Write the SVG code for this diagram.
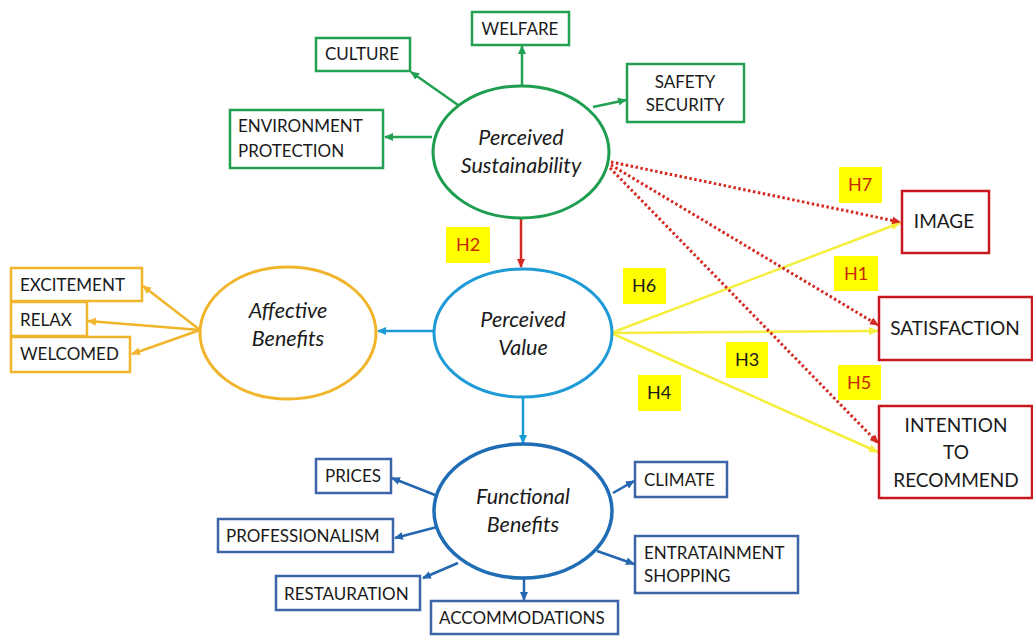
<svg xmlns="http://www.w3.org/2000/svg" width="1033" height="637" viewBox="0 0 1033 637">
<style>
text{font-family:Lato,"Open Sans","Liberation Sans",sans-serif;fill:#1a1a1a}
.bx{font-size:17px}
.rb{font-size:19px}
.el{font-size:21.5px;font-style:italic;text-anchor:middle}
.c{text-anchor:middle}
.hl{font-size:18px;text-anchor:middle}
.gb{fill:#fff;stroke:#23A152;stroke-width:2.5}
.yb{fill:#fff;stroke:#F0B52B;stroke-width:2.5}
.bb{fill:#fff;stroke:#3B65A8;stroke-width:2.5}
.rbx{fill:#fff;stroke:#C8171E;stroke-width:2.5}
.hy{fill:#FFFF00}
.red{fill:#C8280A}
</style>
<defs>
<marker id="ag" markerWidth="9" markerHeight="9" refX="8" refY="4.5" orient="auto" markerUnits="userSpaceOnUse"><path d="M0,0.5 L9,4.5 L0,8.5 z" fill="#23A152"/></marker>
<marker id="ay" markerWidth="9" markerHeight="9" refX="8" refY="4.5" orient="auto" markerUnits="userSpaceOnUse"><path d="M0,0.5 L9,4.5 L0,8.5 z" fill="#F0B52B"/></marker>
<marker id="ac" markerWidth="9" markerHeight="9" refX="8" refY="4.5" orient="auto" markerUnits="userSpaceOnUse"><path d="M0,0.5 L9,4.5 L0,8.5 z" fill="#1E9BD7"/></marker>
<marker id="ab" markerWidth="9" markerHeight="9" refX="8" refY="4.5" orient="auto" markerUnits="userSpaceOnUse"><path d="M0,0.5 L9,4.5 L0,8.5 z" fill="#2467B0"/></marker>
<marker id="ar" markerWidth="9" markerHeight="9" refX="8" refY="4.5" orient="auto" markerUnits="userSpaceOnUse"><path d="M0,0.5 L9,4.5 L0,8.5 z" fill="#D42A22"/></marker>
<marker id="aw" markerWidth="10" markerHeight="10" refX="9" refY="5" orient="auto" markerUnits="userSpaceOnUse"><path d="M0,1 L10,5 L0,9 z" fill="#F6EE3C"/></marker>
</defs>

<g id="connectors" fill="none">
  <g stroke="#23A152" stroke-width="2.5" marker-end="url(#ag)">
    <line x1="522" y1="86" x2="522" y2="46"/>
    <line x1="458" y1="105" x2="411" y2="72"/>
    <line x1="432" y1="137" x2="385" y2="137"/>
    <line x1="593" y1="107" x2="626" y2="100"/>
  </g>
  <line x1="521" y1="218" x2="521" y2="267" stroke="#D42A22" stroke-width="2.5" marker-end="url(#ar)"/>
  <g stroke="#1E9BD7" stroke-width="2.5" marker-end="url(#ac)">
    <line x1="433" y1="331" x2="378" y2="331"/>
    <line x1="523" y1="398" x2="523" y2="443"/>
  </g>
  <g stroke="#F0B52B" stroke-width="2.5" marker-end="url(#ay)">
    <line x1="200" y1="330" x2="143" y2="286"/>
    <line x1="200" y1="330" x2="88" y2="321"/>
    <line x1="200" y1="330" x2="132" y2="354"/>
  </g>
  <g stroke="#2467B0" stroke-width="2.5" marker-end="url(#ab)">
    <line x1="435" y1="495" x2="392" y2="478"/>
    <line x1="437" y1="527" x2="395" y2="538"/>
    <line x1="458" y1="563" x2="423" y2="578"/>
    <line x1="524" y1="578" x2="524" y2="600"/>
    <line x1="613" y1="493" x2="634" y2="481"/>
    <line x1="597" y1="551" x2="634" y2="564"/>
  </g>
  <g stroke="#F6EE3C" stroke-width="2.5" marker-end="url(#aw)">
    <line x1="611" y1="333" x2="900" y2="223"/>
    <line x1="611" y1="333" x2="878" y2="331"/>
    <line x1="611" y1="333" x2="878" y2="452"/>
  </g>
  <g stroke="#D42A22" stroke-width="3" stroke-dasharray="2.5 2.5" marker-end="url(#ar)">
    <line x1="611" y1="162" x2="900" y2="222"/>
    <line x1="611" y1="165" x2="878" y2="325"/>
    <line x1="610" y1="168" x2="878" y2="443"/>
  </g>
</g>

<g id="perceived-sustainability"><ellipse cx="521" cy="152" rx="88" ry="66" fill="#fff" stroke="#1D9E4F" stroke-width="3"/><text class="el" x="521" y="145">Perceived</text><text class="el" x="521" y="173">Sustainability</text></g>
<g id="perceived-value"><ellipse cx="523" cy="333" rx="89" ry="64" fill="#fff" stroke="#1E9BD7" stroke-width="3"/><text class="el" x="523" y="327">Perceived</text><text class="el" x="523" y="355">Value</text></g>
<g id="affective-benefits"><ellipse cx="288" cy="333" rx="88" ry="66" fill="#fff" stroke="#F0B52B" stroke-width="3"/><text class="el" x="288" y="318">Affective</text><text class="el" x="288" y="346">Benefits</text></g>
<g id="functional-benefits"><ellipse cx="523" cy="511" rx="89" ry="67" fill="#fff" stroke="#1F6EB5" stroke-width="3.5"/><text class="el" x="523" y="504">Functional</text><text class="el" x="523" y="532">Benefits</text></g>

<g id="welfare"><rect class="gb" x="472" y="12" width="97" height="33"/><text class="bx c" x="520" y="35">WELFARE</text></g>
<g id="culture"><rect class="gb" x="316" y="38" width="94" height="33"/><text class="bx c" x="362" y="60">CULTURE</text></g>
<g id="environment-protection"><rect class="gb" x="230" y="110" width="153" height="58"/><text class="bx" x="238" y="132">ENVIRONMENT</text><text class="bx" x="238" y="157">PROTECTION</text></g>
<g id="safety-security"><rect class="gb" x="627" y="64" width="117" height="58"/><text class="bx c" x="685" y="88">SAFETY</text><text class="bx c" x="685" y="111">SECURITY</text></g>

<g id="excitement"><rect class="yb" x="11" y="268" width="131" height="33"/><text class="bx" x="20" y="291">EXCITEMENT</text></g>
<g id="relax"><rect class="yb" x="11" y="302" width="76" height="34"/><text class="bx" x="20" y="326">RELAX</text></g>
<g id="welcomed"><rect class="yb" x="11" y="337" width="119" height="35"/><text class="bx" x="20" y="360">WELCOMED</text></g>

<g id="prices"><rect class="bb" x="316" y="459" width="75" height="34"/><text class="bx c" x="353" y="482">PRICES</text></g>
<g id="professionalism"><rect class="bb" x="218" y="519" width="175" height="33"/><text class="bx" x="226" y="542">PROFESSIONALISM</text></g>
<g id="restauration"><rect class="bb" x="276" y="576" width="144" height="34"/><text class="bx" x="284" y="600">RESTAURATION</text></g>
<g id="accommodations"><rect class="bb" x="431" y="601" width="187" height="33"/><text class="bx" x="439" y="624">ACCOMMODATIONS</text></g>
<g id="climate"><rect class="bb" x="635" y="462" width="92" height="35"/><text class="bx" x="644" y="486">CLIMATE</text></g>
<g id="entratainment-shopping"><rect class="bb" x="635" y="536" width="163" height="57"/><text class="bx" x="644" y="559">ENTRATAINMENT</text><text class="bx" x="644" y="582">SHOPPING</text></g>

<g id="image"><rect class="rbx" x="902" y="191" width="87" height="62"/><text class="rb c" x="944" y="228">IMAGE</text></g>
<g id="satisfaction"><rect class="rbx" x="879" y="297" width="153" height="63"/><text class="rb c" x="955" y="335">SATISFACTION</text></g>
<g id="intention-to-recommend"><rect class="rbx" x="879" y="406" width="153" height="92"/><text class="rb c" x="956" y="432">INTENTION</text><text class="rb c" x="956" y="459">TO</text><text class="rb c" x="956" y="487">RECOMMEND</text></g>

<g id="labels">
  <g id="h7"><rect class="hy" x="839" y="167" width="43" height="36"/><text class="hl red" x="860" y="191">H7</text></g>
  <g id="h1"><rect class="hy" x="834" y="256" width="44" height="35"/><text class="hl red" x="856" y="280">H1</text></g>
  <g id="h5"><rect class="hy" x="838" y="365" width="43" height="35"/><text class="hl red" x="859" y="389">H5</text></g>
  <g id="h2"><rect class="hy" x="446" y="227" width="44" height="36"/><text class="hl red" x="468" y="251">H2</text></g>
  <g id="h6"><rect class="hy" x="623" y="268" width="43" height="36"/><text class="hl" x="644" y="292">H6</text></g>
  <g id="h3"><rect class="hy" x="726" y="342" width="42" height="36"/><text class="hl" x="747" y="366">H3</text></g>
  <g id="h4"><rect class="hy" x="638" y="375" width="43" height="36"/><text class="hl" x="659" y="399">H4</text></g>
</g>
</svg>
